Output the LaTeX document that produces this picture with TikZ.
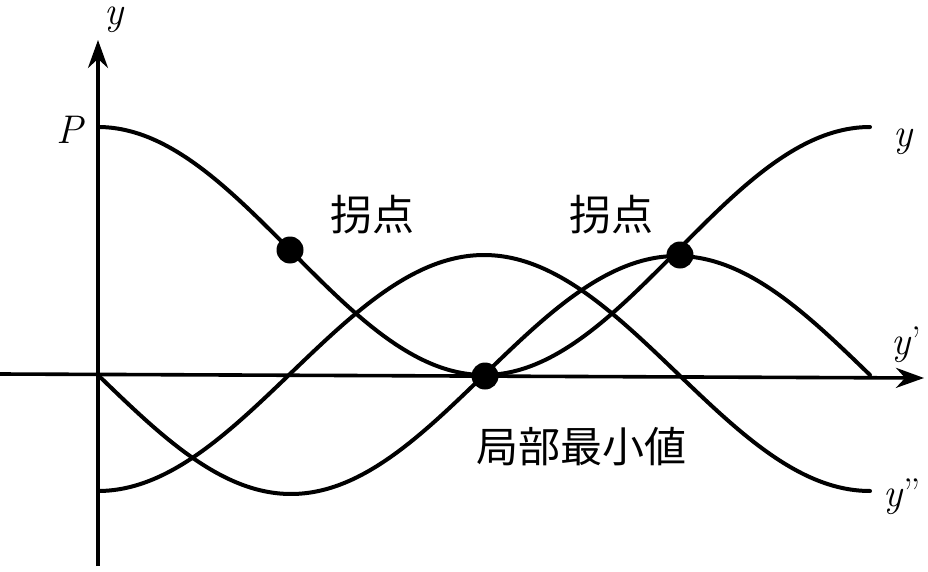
\documentclass[tikz,border=0pt]{standalone}
\usepackage{fontspec}
\newfontfamily\cjk{Noto Sans CJK JP}
\usetikzlibrary{arrows.meta}
\begin{document}
\begin{tikzpicture}[x=1pt,y=-1pt,
  curve/.style={line width=4pt,line cap=round},
  axis/.style={line width=3.6pt,-{Stealth[length=28pt,width=20pt]}},
  dotmark/.style={circle,fill=black,inner sep=0pt,minimum size=27pt},
  cjklabel/.style={font=\cjk\fontsize{42}{42}\selectfont,inner sep=0pt},
  mathlabel/.style={font=\fontsize{40}{40}\selectfont\itshape,inner sep=0pt}]
\useasboundingbox (0,0) rectangle (928,572);
% axes
\coordinate (ybot) at (98,566);
\coordinate (ytop) at (98,40);
\coordinate (xleft) at (0,374);
\coordinate (xright) at (924,378);
\draw[axis] (ybot) -- (ytop);
\draw[axis] (xleft) -- (xright);
% curves
\draw[curve] plot[domain=0:360,samples=120,smooth] ({98+2.14444*\x},{251-124*cos(\x)});
\draw[curve] plot[domain=0:360,samples=120,smooth] ({98+2.14444*\x},{375+119*sin(\x)});
\draw[curve] plot[domain=0:360,samples=120,smooth] ({98+2.14444*\x},{373+118*cos(\x)});
% points
\node[dotmark] (infl1) at (290,250) {};
\node[dotmark] (minpt) at (485,376) {};
\node[dotmark] (infl2) at (680,255) {};
% labels
\node[cjklabel] (l1) at (372,215) {拐点};
\node[cjklabel] (l2) at (611,215) {拐点};
\node[cjklabel] (l3) at (581,447) {局部最小値};
\node[mathlabel] (lp) at (70,130) {P};
\node[mathlabel,anchor=north] (ly0) at (114,7) {y};
\node[mathlabel] (ly) at (903,142) {y};
\node[mathlabel] (ly1) at (906,345) {y\kern1pt\upshape'};
\node[mathlabel] (ly2) at (902,497) {y\kern1pt\upshape''};
\end{tikzpicture}
\end{document}
